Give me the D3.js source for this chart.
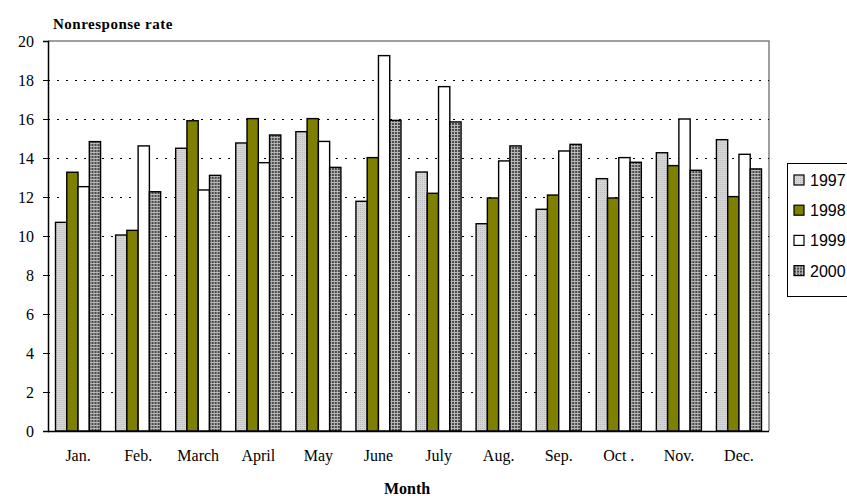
<!DOCTYPE html>
<html>
<head>
<meta charset="utf-8">
<script src="https://cdn.jsdelivr.net/npm/d3@7"></script>
<style>
  body { margin: 0; background: #fff; }
  svg { display: block; }
</style>
</head>
<body>
<svg id="chart" width="847" height="496"></svg>
<script>
// Monthly nonresponse rates by year
const months = ["Jan.", "Feb.", "March", "April", "May", "June", "July", "Aug.", "Sep.", "Oct .", "Nov.", "Dec."];
const years = ["1997", "1998", "1999", "2000"];
const rate1997 = [10.7, 10.05, 14.5, 14.77, 15.35, 11.78, 13.28, 10.63, 11.37, 12.94, 14.27, 14.94];
const rate1998 = [13.27, 10.29, 15.91, 16.02, 16.02, 14.02, 12.19, 11.95, 12.1, 11.95, 13.61, 12.02];
const rate1999 = [12.53, 14.62, 12.36, 13.76, 14.85, 19.25, 17.66, 13.85, 14.36, 14.02, 16.0, 14.19];
const rate2000 = [14.84, 12.27, 13.11, 15.18, 13.52, 15.93, 15.85, 14.62, 14.7, 13.78, 13.37, 13.44];
const yTicks = [0, 2, 4, 6, 8, 10, 12, 14, 16, 18, 20];

const seriesValues = [rate1997, rate1998, rate1999, rate2000];

const svg = d3.select("#chart");
const plotLeft = 48, plotRight = 769, plotTop = 41, plotBottom = 431;

// Fill patterns
const defs = svg.append("defs");
const p97 = defs.append("pattern").attr("id", "pat1997").attr("patternUnits", "userSpaceOnUse")
  .attr("width", 2).attr("height", 2);
p97.append("rect").attr("width", 2).attr("height", 2).attr("fill", "#d8d8d8");
p97.append("rect").attr("width", 1).attr("height", 1).attr("fill", "#b8b8b8");
const p00 = defs.append("pattern").attr("id", "pat2000").attr("patternUnits", "userSpaceOnUse")
  .attr("width", 3).attr("height", 3);
p00.append("rect").attr("width", 3).attr("height", 3).attr("fill", "#b8b8b8");
p00.append("rect").attr("width", 2).attr("height", 2).attr("fill", "#4a4a4a");

const fills = ["url(#pat1997)", "#808000", "#ffffff", "url(#pat2000)"];

const x0 = d3.scaleBand().domain(months).range([plotLeft, plotRight]).paddingInner(0.25).paddingOuter(0.125);
const x1 = d3.scaleBand().domain(years).range([0, x0.bandwidth()]);
const y = d3.scaleLinear().domain([0, 20]).range([plotBottom, plotTop]);

// Plot area frame (top and right)
svg.append("path")
  .attr("d", `M${plotLeft},${plotTop}H${plotRight}V${plotBottom}`)
  .attr("fill", "none").attr("stroke", "#808080").attr("stroke-width", 1.5);

// Dotted gridlines
svg.append("g").selectAll("line")
  .data(yTicks.filter(t => t > 0 && t < 20))
  .join("line")
  .attr("x1", plotLeft).attr("x2", plotRight)
  .attr("y1", d => y(d) + 0.5).attr("y2", d => y(d) + 0.5)
  .attr("stroke", "#000").attr("stroke-width", 1)
  .attr("stroke-dasharray", "2,7");

// Bars
const rows = months.map((m, i) => ({ month: m, vals: years.map((yr, k) => ({ year: yr, k, v: seriesValues[k][i] })) }));
svg.append("g").selectAll("g")
  .data(rows)
  .join("g")
  .attr("transform", d => `translate(${x0(d.month)},0)`)
  .selectAll("rect")
  .data(d => d.vals)
  .join("rect")
  .attr("x", d => x1(d.year))
  .attr("width", x1.bandwidth())
  .attr("y", d => y(d.v))
  .attr("height", d => y(0) - y(d.v))
  .attr("fill", d => fills[d.k])
  .attr("stroke", "#000").attr("stroke-width", 1.4);

// Y axis
const yAxis = svg.append("g")
  .attr("transform", `translate(${plotLeft},0)`)
  .call(d3.axisLeft(y).tickValues(yTicks).tickSize(5).tickPadding(9).tickFormat(d3.format("d")));
yAxis.select(".domain").attr("stroke", "#000").attr("stroke-width", 1.5);
yAxis.selectAll(".tick line").attr("stroke", "#000");
yAxis.selectAll("text").attr("font-family", "Liberation Serif, Times New Roman, serif")
  .attr("font-size", 16).attr("fill", "#000");

// X axis
const xAxis = svg.append("g")
  .attr("transform", `translate(0,${plotBottom})`)
  .call(d3.axisBottom(x0).tickSize(0).tickPadding(19));
xAxis.select(".domain").attr("d", `M${plotLeft},0.5H${plotRight}`).attr("stroke", "#000").attr("stroke-width", 1.5);
xAxis.selectAll("text").attr("font-family", "Liberation Serif, Times New Roman, serif")
  .attr("font-size", 16).attr("fill", "#000");

// Titles
svg.append("text").attr("x", 53).attr("y", 29)
  .attr("font-family", "Liberation Serif, Times New Roman, serif")
  .attr("font-weight", "bold").attr("font-size", 15).attr("letter-spacing", 0.5)
  .text("Nonresponse rate");
svg.append("text").attr("x", 407).attr("y", 494).attr("text-anchor", "middle")
  .attr("font-family", "Liberation Serif, Times New Roman, serif")
  .attr("font-weight", "bold").attr("font-size", 16)
  .text("Month");

// Legend
const legend = svg.append("g");
legend.append("rect").attr("x", 787.5).attr("y", 163.5).attr("width", 80).attr("height", 133)
  .attr("fill", "#fff").attr("stroke", "#000").attr("stroke-width", 1);
const li = legend.selectAll("g.item").data(years).join("g").attr("class", "item")
  .attr("transform", (d, i) => `translate(794,${180 + i * 30.2})`);
li.append("rect").attr("x", 0).attr("y", -5).attr("width", 10).attr("height", 10)
  .attr("fill", (d, i) => fills[i]).attr("stroke", "#000").attr("stroke-width", 1.2);
li.append("text").attr("x", 16).attr("y", 6)
  .attr("font-family", "Liberation Sans, Arial, sans-serif").attr("font-size", 16)
  .text(d => d);
</script>
</body>
</html>
